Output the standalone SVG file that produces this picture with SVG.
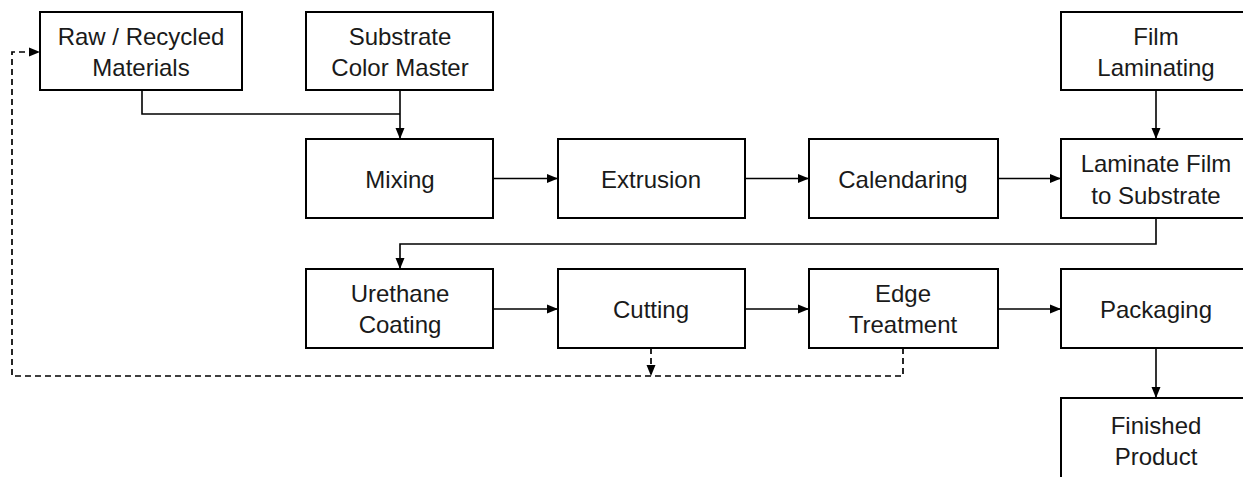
<svg xmlns="http://www.w3.org/2000/svg" width="1243" height="477" viewBox="0 0 1243 477">
<style>
.box{fill:#fff;stroke:#000;stroke-width:2}
.t{font-family:"Liberation Sans",Arial,sans-serif;font-size:24px;fill:#1a1a1a;text-anchor:middle}
.c{fill:none;stroke:#000;stroke-width:1.6}
.d{fill:none;stroke:#000;stroke-width:1.7;stroke-dasharray:6 4}
</style>
<defs>
<marker id="ah" markerUnits="userSpaceOnUse" markerWidth="12" markerHeight="10" refX="11" refY="5" orient="auto">
<path d="M0,0.5 L11,5 L0,9.5 Z" fill="#000"/>
</marker>
</defs>
<rect width="1243" height="477" fill="#fff"/>
<g id="connectors">
<path class="c" d="M142,90 V114 H400"/>
<path class="c" d="M400,90 V139" marker-end="url(#ah)"/>
<path class="c" d="M1156,90 V139" marker-end="url(#ah)"/>
<path class="c" d="M493,178.5 H558" marker-end="url(#ah)"/>
<path class="c" d="M745,178.5 H809" marker-end="url(#ah)"/>
<path class="c" d="M998,178.5 H1061" marker-end="url(#ah)"/>
<path class="c" d="M1156,218 V244 H400 V269" marker-end="url(#ah)"/>
<path class="c" d="M493,309 H558" marker-end="url(#ah)"/>
<path class="c" d="M745,309 H809" marker-end="url(#ah)"/>
<path class="c" d="M998,309 H1061" marker-end="url(#ah)"/>
<path class="c" d="M1156,348 V398" marker-end="url(#ah)"/>
<path class="d" d="M903,348 V376 H12 V52 H40" marker-end="url(#ah)"/>
<path class="d" d="M651,348 V376" marker-end="url(#ah)"/>
</g>
<g id="raw"><rect class="box" x="40" y="12" width="202" height="78"/><text class="t" x="141" y="45">Raw / Recycled</text><text class="t" x="141" y="76">Materials</text></g>
<g id="substrate"><rect class="box" x="306" y="12" width="187" height="78"/><text class="t" x="400" y="45">Substrate</text><text class="t" x="400" y="76">Color Master</text></g>
<g id="film"><rect class="box" x="1061" y="12" width="190" height="78"/><text class="t" x="1156" y="45">Film</text><text class="t" x="1156" y="76">Laminating</text></g>
<g id="mixing"><rect class="box" x="306" y="139" width="187" height="79"/><text class="t" x="400" y="188">Mixing</text></g>
<g id="extrusion"><rect class="box" x="558" y="139" width="187" height="79"/><text class="t" x="651" y="188">Extrusion</text></g>
<g id="calendaring"><rect class="box" x="809" y="139" width="189" height="79"/><text class="t" x="903" y="188">Calendaring</text></g>
<g id="laminate"><rect class="box" x="1061" y="139" width="190" height="79"/><text class="t" x="1156" y="172">Laminate Film</text><text class="t" x="1156" y="204">to Substrate</text></g>
<g id="urethane"><rect class="box" x="306" y="269" width="187" height="79"/><text class="t" x="400" y="302">Urethane</text><text class="t" x="400" y="333">Coating</text></g>
<g id="cutting"><rect class="box" x="558" y="269" width="187" height="79"/><text class="t" x="651" y="318">Cutting</text></g>
<g id="edge"><rect class="box" x="809" y="269" width="189" height="79"/><text class="t" x="903" y="302">Edge</text><text class="t" x="903" y="333">Treatment</text></g>
<g id="packaging"><rect class="box" x="1061" y="269" width="190" height="79"/><text class="t" x="1156" y="318">Packaging</text></g>
<g id="finished"><rect class="box" x="1061" y="398" width="190" height="90"/><text class="t" x="1156" y="434">Finished</text><text class="t" x="1156" y="465">Product</text></g>
</svg>
